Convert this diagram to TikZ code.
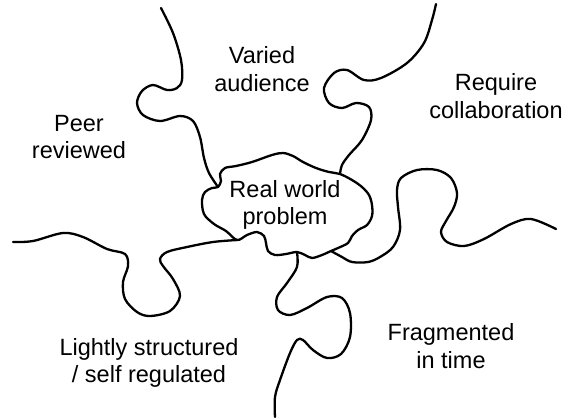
\documentclass[tikz,border=0pt]{standalone}
\usepackage{fontspec}
\setmainfont{Liberation Sans}
\begin{document}
\begin{tikzpicture}[x=1bp,y=-1bp,
  edge/.style={line width=2.3bp, line cap=round, line join=round},
  lbl/.style={align=center, font=\fontsize{23.5bp}{27.5bp}\selectfont, inner sep=0pt}]
\useasboundingbox (0,0) rectangle (568,418);
% junction points on the central piece
\coordinate (J1) at (218,187);
\coordinate (J2) at (340,174);
\coordinate (J3) at (237,240);
\coordinate (J4) at (297,252);
\coordinate (J5) at (331,251);
% central piece
\draw[edge] plot[smooth cycle, tension=0.55] coordinates {
 (218,187) (221,181) (220,174) (225,168) (236,166) (252,162) (272,155) (283,153)
 (293,156) (303,162) (316,168) (329,172) (340,174) (352,180) (362,187) (369,195)
 (372,205) (372,216) (367,225) (358,230) (352,236) (348,243) (338,248) (331,251)
 (322,255) (312,258) (305,255) (297,252) (286,254) (275,255) (268,251) (266,243)
 (264,236) (257,232) (247,235) (237,240) (226,231) (214,224) (204,214) (202,200)
 (205,192) (212,188)};
% top-left cut
\draw[edge] plot[smooth, tension=0.55] coordinates {
 (161,8) (173,33) (181,60) (182,80) (177,88) (167,90) (153,85) (142,91) (137,103)
 (143,115) (160,121) (180,116) (193,121) (200,137) (204,158) (209,173) (218,187)};
% top-right cut
\draw[edge] plot[smooth, tension=0.55] coordinates {
 (436,4) (432,20) (424,43) (407,63) (381,78) (364,80) (347,70) (334,73) (324,88)
 (329,103) (342,108) (356,103) (369,107) (371,120) (362,140) (349,155) (342,165) (340,174)};
% left cut
\draw[edge] plot[smooth, tension=0.55] coordinates {
 (13,242) (33,241) (63,233) (83,237) (107,249) (125,254) (128,266) (123,282) (125,299)
 (137,312) (150,316) (170,311) (180,296) (173,279) (163,266) (160,259) (167,252)
 (187,247) (213,242) (237,240)};
% bottom cut
\draw[edge] plot[smooth, tension=0.55] coordinates {
 (297,252) (297,267) (287,283) (277,297) (278,310) (290,315) (307,308) (327,297)
 (342,298) (350,313) (350,337) (341,354) (327,358) (313,350) (303,340) (297,340)
 (290,353) (280,380) (275,397) (275,417)};
% right cut
\draw[edge] plot[smooth, tension=0.55] coordinates {
 (331,251) (342,257) (352,262) (368,262) (380,257) (393,247) (400,230) (398,207)
 (397,190) (401,178) (417,170) (437,170) (451,178) (457,193) (454,207) (446,221)
 (441,232) (447,242) (464,246) (484,239) (511,224) (531,219) (556,229)};
% labels
\node[lbl] (varied) at (262,69) {Varied\\audience};
\node[lbl] (peer) at (79,137) {Peer\\reviewed};
\node[lbl] (require) at (496,96) {Require\\collaboration};
\node[lbl] (real) at (285,205) {Real world\\problem};
\node[lbl] (lightly) at (149,363) {Lightly structured\\/ self regulated};
\node[lbl] (frag) at (451,346) {Fragmented\\in time};
\end{tikzpicture}
\end{document}
